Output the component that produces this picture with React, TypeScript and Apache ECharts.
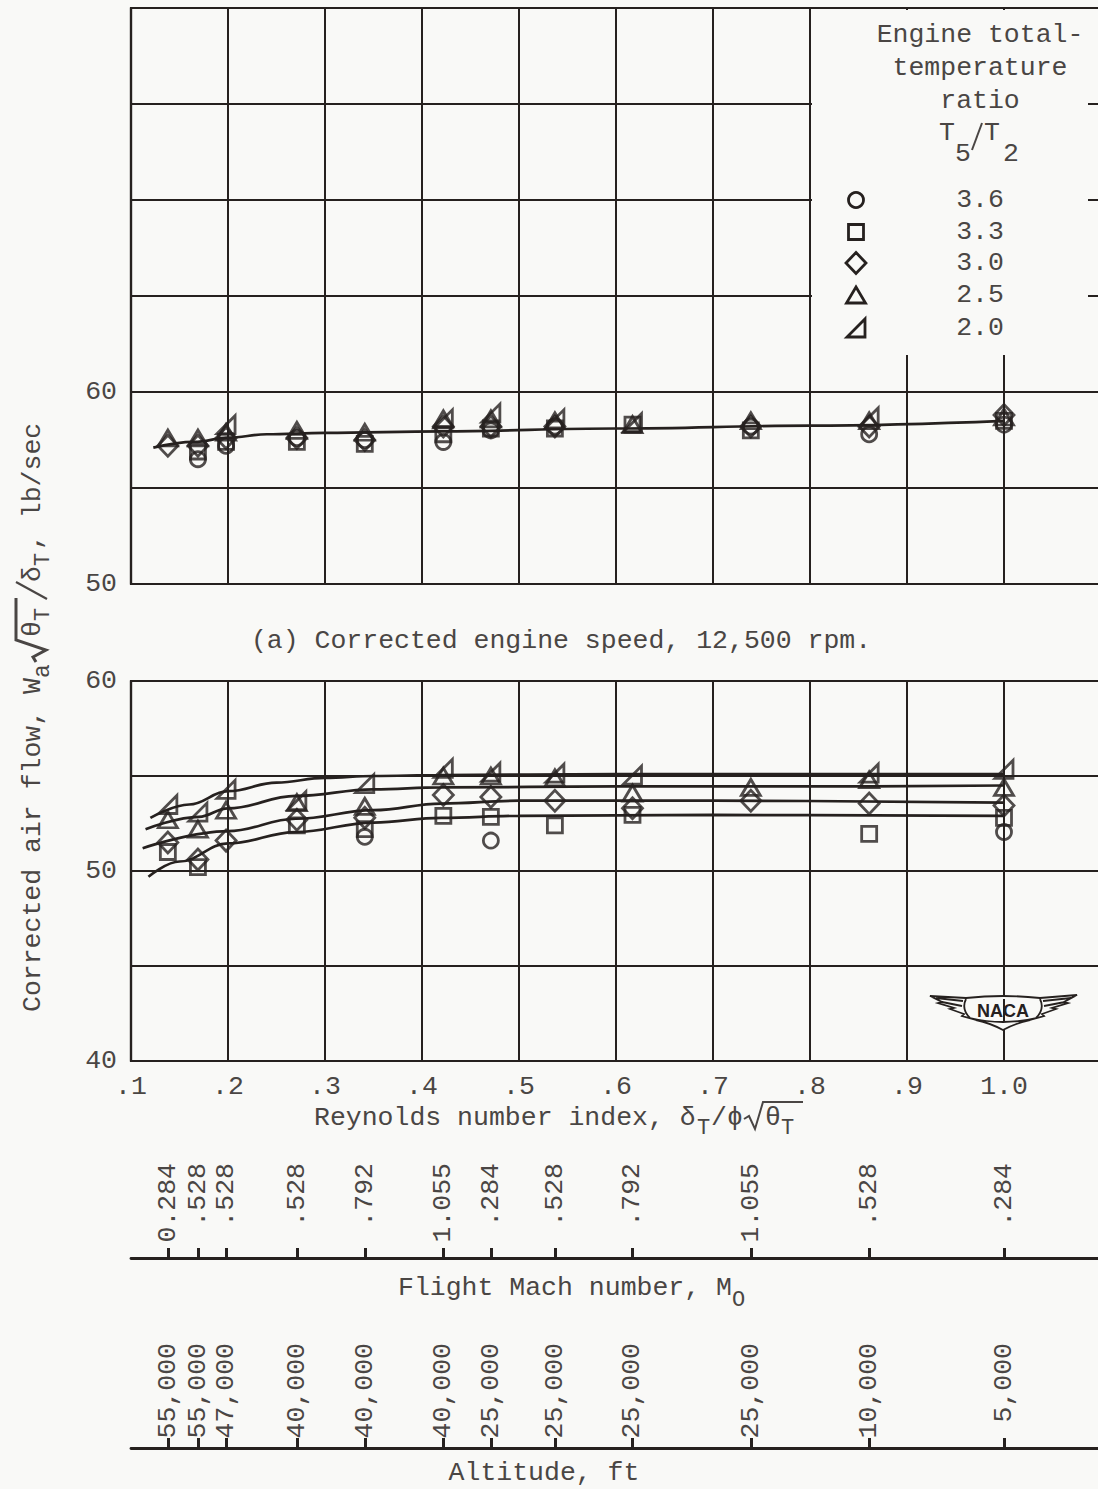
import React, { useEffect, useRef } from 'react';
import * as echarts from 'echarts';

// Reynolds number index of each flight condition (one column of test points each)
const reynoldsIndex = [0.138, 0.169, 0.198, 0.271, 0.341, 0.422, 0.471, 0.537, 0.617, 0.739, 0.861, 1.0];
// Flight Mach number and altitude of each of those conditions
const machLabels = ['0.284', '.528', '.528', '.528', '.792', '1.055', '.284', '.528', '.792', '1.055', '.528', '.284'];
const altitudeLabels = ['55,000', '55,000', '47,000', '40,000', '40,000', '40,000', '25,000', '25,000', '25,000', '25,000', '10,000', '5,000'];

const reynoldsTicks = [0.1, 0.2, 0.3, 0.4, 0.5, 0.6, 0.7, 0.8, 0.9, 1.0];
const reynoldsTickLabels = ['.1', '.2', '.3', '.4', '.5', '.6', '.7', '.8', '.9', '1.0'];

// Engine total-temperature ratio T5/T2
const ratioNames = ['3.6', '3.3', '3.0', '2.5', '2.0'];

// (a) Corrected engine speed 12,500 rpm: corrected air flow, lb/sec
const rpm12500_36 = [null, 56.5, 57.2, 57.6, 57.5, 57.4, 58.0, 58.2, null, 58.2, 57.8, 58.3];
const rpm12500_33 = [null, 56.9, 57.4, 57.4, 57.3, 57.8, 58.1, 58.1, 58.3, 58.0, null, 58.5];
const rpm12500_30 = [57.2, 57.2, 57.6, 57.6, 57.5, 58.2, 58.2, 58.2, null, 58.2, 58.2, 58.8];
const rpm12500_25 = [57.6, 57.6, 57.9, 58.0, 57.9, 58.6, 58.6, 58.5, 58.3, 58.5, 58.5, 58.7];
const rpm12500_20 = [null, null, 58.3, null, null, 58.6, 58.9, 58.6, 58.4, null, 58.7, null];

// Lower panel: corrected air flow, lb/sec
const lower_36 = [null, null, null, null, 51.8, null, 51.6, null, null, null, null, 52.05];
const lower_33 = [51.0, 50.2, null, 52.4, 52.2, 52.9, 52.85, 52.4, 52.95, null, 51.95, 52.8];
const lower_30 = [51.5, 50.6, 51.6, 52.7, 52.8, 54.0, 53.9, 53.7, 53.3, 53.7, 53.55, 53.45];
const lower_25 = [52.7, 52.2, 53.2, 53.6, 53.4, 55.0, 55.0, 54.9, 54.1, 54.4, 54.8, 54.4];
const lower_20 = [53.5, 53.1, 54.3, 53.7, 54.6, 55.4, 55.2, 55.15, 55.05, null, 55.15, 55.35];

// Faired curves
const fairTopX = [0.123, 0.165, 0.2, 0.24, 0.3, 0.42, 0.6, 0.8, 1.0];
const fairTopY = [57.1, 57.4, 57.62, 57.8, 57.87, 57.95, 58.1, 58.25, 58.5];

const fairLow1X = [0.12, 0.16, 0.2, 0.25, 0.3, 0.35, 0.42, 0.6, 0.8, 1.0];
const fairLow1Y = [52.8, 53.5, 54.2, 54.65, 54.9, 55.0, 55.05, 55.1, 55.1, 55.1];
const fairLow2X = [0.115, 0.17, 0.2, 0.27, 0.35, 0.42, 0.6, 0.8, 1.0];
const fairLow2Y = [52.2, 52.85, 53.3, 53.95, 54.3, 54.4, 54.45, 54.45, 54.5];
const fairLow3X = [0.112, 0.2, 0.27, 0.35, 0.42, 0.5, 0.7, 1.0];
const fairLow3Y = [51.2, 52.1, 52.75, 53.2, 53.55, 53.7, 53.7, 53.6];
const fairLow4X = [0.118, 0.15, 0.2, 0.27, 0.35, 0.42, 0.5, 0.7, 1.0];
const fairLow4Y = [49.7, 50.5, 51.45, 52.05, 52.55, 52.8, 52.9, 52.95, 52.9];

const INK = '#26211f';
const TEXT = '#4a4644';
const BG = '#f9f9f7';
const FONT = "'Liberation Mono', 'DejaVu Sans Mono', monospace";
const FS = 26.5;

const RIGHT_TRIANGLE = 'path://M0,20L20,20L20,0Z';
const markers: { symbol: string; size: number | number[] }[] = [
  { symbol: 'circle', size: 15 },
  { symbol: 'rect', size: 15 },
  { symbol: 'diamond', size: [20, 21] },
  { symbol: 'triangle', size: [19, 16] },
  { symbol: RIGHT_TRIANGLE, size: [18, 18] },
];

// Winged emblem outline, drawn from its left wing tip
const WINGS =
  'M0,3 L36,5 Q73,1 110,5 L147,2 L134,9 L138,10 L122,15 L126,16 L112,21 L114,23 L100,27 Q86,30 73,37 ' +
  'Q60,30 46,27 L32,23 L34,21 L20,16 L24,15 L8,10 L12,9 Z ' +
  'M36,6 Q31,16 40,25 Q73,33 106,25 Q115,16 110,6 ' +
  'M6,5 L33,8 M12,9 L32,13 M141,5 L113,8 M135,9 L114,13';

function pointsOf(values: (number | null)[]) {
  const out: number[][] = [];
  values.forEach((v, i) => {
    if (v !== null) out.push([reynoldsIndex[i], v]);
  });
  return out;
}

function curveOf(xs: number[], ys: number[]) {
  return xs.map((x, i) => [x, ys[i]]);
}

function scatter(name: string, idx: number, axis: number, values: (number | null)[]) {
  return {
    type: 'scatter',
    name,
    xAxisIndex: axis,
    yAxisIndex: axis,
    symbol: markers[idx].symbol,
    symbolSize: markers[idx].size,
    itemStyle: { color: 'rgba(0,0,0,0)', borderColor: INK, borderWidth: 2.8 },
    emphasis: { disabled: true },
    data: pointsOf(values),
    z: 3,
  };
}

function faired(name: string, axis: number, xs: number[], ys: number[]) {
  return {
    type: 'line',
    name,
    xAxisIndex: axis,
    yAxisIndex: axis,
    smooth: 0.4,
    smoothMonotone: 'x',
    symbol: 'none',
    showSymbol: false,
    lineStyle: { color: INK, width: 2.7 },
    emphasis: { disabled: true },
    data: curveOf(xs, ys),
    z: 2,
  };
}

function label(x: number, y: number, text: string, align = 'left', size = FS) {
  return {
    type: 'text',
    x,
    y,
    z: 30,
    style: {
      text,
      fill: TEXT,
      fontSize: size,
      fontFamily: FONT,
      align,
      textAlign: align,
      verticalAlign: 'middle',
      textVerticalAlign: 'middle',
    },
  };
}

function lineEl(x1: number, y1: number, x2: number, y2: number, w = 2) {
  return {
    type: 'line',
    z: 30,
    shape: { x1, y1, x2, y2 },
    style: { stroke: TEXT, lineWidth: w },
  };
}

function polyEl(points: number[][], w = 2) {
  return {
    type: 'polyline',
    z: 30,
    shape: { points },
    style: { stroke: TEXT, lineWidth: w, fill: null },
  };
}

const gridBase = { left: 131, width: 970, outerBoundsMode: 'none', containLabel: false };

function plotXAxis(grid: number, withLabels: boolean) {
  return {
    type: 'value',
    gridIndex: grid,
    min: 0.1,
    max: 1.1,
    interval: 0.1,
    axisLine: { show: true, lineStyle: { color: INK, width: 2.2 } },
    axisTick: { show: false },
    axisLabel: withLabels
      ? {
          show: true,
          customValues: reynoldsTicks,
          formatter: (v: number) => {
            const i = reynoldsTicks.findIndex((t) => Math.abs(t - v) < 1e-6);
            return i >= 0 ? reynoldsTickLabels[i] : '';
          },
          color: TEXT,
          fontSize: FS,
          fontFamily: FONT,
          margin: 12,
          hideOverlap: false,
        }
      : { show: false },
    splitLine: { show: true, lineStyle: { color: INK, width: 2 } },
  };
}

function plotYAxis(grid: number, min: number, max: number, shown: number[]) {
  return {
    type: 'value',
    gridIndex: grid,
    min,
    max,
    interval: 5,
    axisLine: { show: true, lineStyle: { color: INK, width: 2.2 } },
    axisTick: { show: false },
    axisLabel: {
      show: true,
      customValues: shown,
      color: TEXT,
      fontSize: FS,
      fontFamily: FONT,
      margin: 14,
    },
    splitLine: { show: true, lineStyle: { color: INK, width: 2 } },
  };
}

function labelFromIndex(labels: string[]) {
  return (v: number) => {
    let best = 0;
    reynoldsIndex.forEach((t, i) => {
      if (Math.abs(t - v) < Math.abs(reynoldsIndex[best] - v)) best = i;
    });
    return labels[best];
  };
}

function scaleLabelAxis(grid: number, labels: string[]) {
  return {
    type: 'value',
    gridIndex: grid,
    min: 0.1,
    max: 1.1,
    position: 'bottom',
    axisLine: { show: false },
    axisTick: { show: false },
    splitLine: { show: false },
    axisLabel: {
      show: true,
      rotate: 90,
      margin: 3,
      customValues: reynoldsIndex,
      formatter: labelFromIndex(labels),
      color: TEXT,
      fontSize: FS,
      fontFamily: FONT,
      hideOverlap: false,
    },
  };
}

function scaleLineAxis(grid: number) {
  return {
    type: 'value',
    gridIndex: grid,
    min: 0.1,
    max: 1.1,
    position: 'bottom',
    axisLine: { show: true, lineStyle: { color: INK, width: 2.8 } },
    axisTick: {
      show: true,
      inside: true,
      length: 10,
      customValues: reynoldsIndex,
      lineStyle: { color: INK, width: 3 },
    },
    splitLine: { show: false },
    axisLabel: { show: false },
  };
}

function hiddenY(grid: number) {
  return { type: 'value', gridIndex: grid, min: 0, max: 1, show: false };
}

function legendGraphics() {
  const els: any[] = [];
  els.push({
    type: 'rect',
    z: 5,
    shape: { x: 812, y: 10, width: 276, height: 345 },
    style: { fill: BG, stroke: null },
  });
  els.push(label(980, 35, 'Engine total-', 'center'));
  els.push(label(980, 68, 'temperature', 'center'));
  els.push(label(980, 101, 'ratio', 'center'));
  els.push(label(947, 133, 'T', 'center'));
  els.push(label(963, 154, '5', 'center'));
  els.push(lineEl(972, 150, 982, 123, 2));
  els.push(label(992, 133, 'T', 'center'));
  els.push(label(1011, 154, '2', 'center'));
  const rows = [200, 232, 263, 295, 328];
  const cx = 856;
  const st = { fill: 'rgba(0,0,0,0)', stroke: INK, lineWidth: 2.8 };
  els.push({ type: 'circle', z: 30, shape: { cx, cy: rows[0], r: 7.5 }, style: st });
  els.push({ type: 'rect', z: 30, shape: { x: cx - 7.5, y: rows[1] - 7.5, width: 15, height: 15 }, style: st });
  els.push({
    type: 'polygon',
    z: 30,
    shape: { points: [[cx, rows[2] - 10.5], [cx + 10, rows[2]], [cx, rows[2] + 10.5], [cx - 10, rows[2]]] },
    style: st,
  });
  els.push({
    type: 'polygon',
    z: 30,
    shape: { points: [[cx, rows[3] - 8], [cx + 9.5, rows[3] + 8], [cx - 9.5, rows[3] + 8]] },
    style: st,
  });
  els.push({
    type: 'polygon',
    z: 30,
    shape: { points: [[cx - 9, rows[4] + 9], [cx + 9, rows[4] + 9], [cx + 9, rows[4] - 9]] },
    style: st,
  });
  ratioNames.forEach((n, i) => els.push(label(980, rows[i], n, 'center')));
  return els;
}

function yTitle() {
  const t = (x: number, y: number, s: string, size = FS) => ({
    type: 'text',
    x,
    y,
    style: {
      text: s,
      fill: TEXT,
      fontSize: size,
      fontFamily: FONT,
      align: 'left',
      textAlign: 'left',
      verticalAlign: 'middle',
      textVerticalAlign: 'middle',
    },
  });
  return {
    type: 'group',
    x: 33,
    y: 1012,
    rotation: Math.PI / 2,
    z: 30,
    children: [
      t(0, 0, 'Corrected air flow, W'),
      t(334, 10, 'a', 23),
      {
        type: 'polyline',
        shape: { points: [[350, 3], [355, 0], [362, 13], [372, -17], [414, -17]] },
        style: { stroke: TEXT, lineWidth: 3, fill: null },
      },
      t(375, 0, 'θ'),
      t(391, 10, 'T', 22),
      {
        type: 'line',
        shape: { x1: 413, y1: 14, x2: 430, y2: -17 },
        style: { stroke: TEXT, lineWidth: 2.2 },
      },
      t(430, 0, 'δ'),
      t(446, 10, 'T', 22),
      t(462, 0, ', lb/sec'),
    ],
  };
}

function xTitle() {
  const y = 1118;
  return [
    label(314, y, 'Reynolds number index, δ'),
    label(697, y + 10, 'T', 'left', 22),
    label(711, y, '/ϕ'),
    polyEl([[744, y + 1], [749, y - 2], [755, y + 11], [763, y - 16], [803, y - 16]], 2),
    label(765, y, 'θ'),
    label(781, y + 10, 'T', 'left', 22),
  ];
}

function nacaLogo() {
  return [
    {
      type: 'nacaWings',
      x: 930,
      y: 993,
      scaleX: 1,
      scaleY: 1,
      z: 20,
      style: { fill: BG, stroke: INK, lineWidth: 1.8 },
    },
    {
      type: 'text',
      x: 1003,
      y: 1011,
      z: 21,
      style: {
        text: 'NACA',
        fill: INK,
        fontSize: 18,
        fontWeight: 'bold',
        fontFamily: "'Liberation Sans', 'DejaVu Sans', sans-serif",
        align: 'center',
        textAlign: 'center',
        verticalAlign: 'middle',
        textVerticalAlign: 'middle',
      },
    },
  ];
}

export default function App() {
  const ref = useRef<HTMLDivElement>(null);

  useEffect(() => {
    if (!ref.current) return;
    echarts.graphic.registerShape('nacaWings', echarts.graphic.extendPath(WINGS, {}));
    const chart = echarts.init(ref.current, null, { renderer: 'svg' });

    const upper = [rpm12500_36, rpm12500_33, rpm12500_30, rpm12500_25, rpm12500_20];
    const lower = [lower_36, lower_33, lower_30, lower_25, lower_20];

    const series: any[] = [
      faired('faired 12,500 rpm', 0, fairTopX, fairTopY),
      faired('faired lower 1', 1, fairLow1X, fairLow1Y),
      faired('faired lower 2', 1, fairLow2X, fairLow2Y),
      faired('faired lower 3', 1, fairLow3X, fairLow3Y),
      faired('faired lower 4', 1, fairLow4X, fairLow4Y),
    ];
    ratioNames.forEach((n, i) => series.push(scatter(n, i, 0, upper[i])));
    ratioNames.forEach((n, i) => series.push(scatter(n, i, 1, lower[i])));

    chart.setOption({
      animation: false,
      backgroundColor: BG,
      textStyle: { fontFamily: FONT },
      tooltip: { show: false },
      grid: [
        { ...gridBase, top: 8, height: 576, show: true, borderColor: INK, borderWidth: 2.2 },
        { ...gridBase, top: 681, height: 380, show: true, borderColor: INK, borderWidth: 2.2 },
        { ...gridBase, top: 1100, height: 60 },
        { ...gridBase, top: 1200, height: 58 },
        { ...gridBase, top: 1280, height: 60 },
        { ...gridBase, top: 1390, height: 58 },
      ],
      xAxis: [
        plotXAxis(0, false),
        plotXAxis(1, true),
        scaleLabelAxis(2, machLabels),
        scaleLineAxis(3),
        scaleLabelAxis(4, altitudeLabels),
        scaleLineAxis(5),
      ],
      yAxis: [
        plotYAxis(0, 50, 80, [50, 60]),
        plotYAxis(1, 40, 60, [40, 50, 60]),
        hiddenY(2),
        hiddenY(3),
        hiddenY(4),
        hiddenY(5),
      ],
      series,
      graphic: {
        elements: [
          ...legendGraphics(),
          yTitle(),
          ...xTitle(),
          label(561, 641, '(a) Corrected engine speed, 12,500 rpm.', 'center'),
          label(398, 1288, 'Flight Mach number, M'),
          label(732, 1300, 'O', 'left', 22),
          label(544, 1473, 'Altitude, ft', 'center'),
          ...nacaLogo(),
        ],
      },
    });

    return () => chart.dispose();
  }, []);

  return (
    <div
      ref={ref}
      style={{ position: 'absolute', left: 0, top: 0, width: 1098, height: 1489 }}
    />
  );
}
